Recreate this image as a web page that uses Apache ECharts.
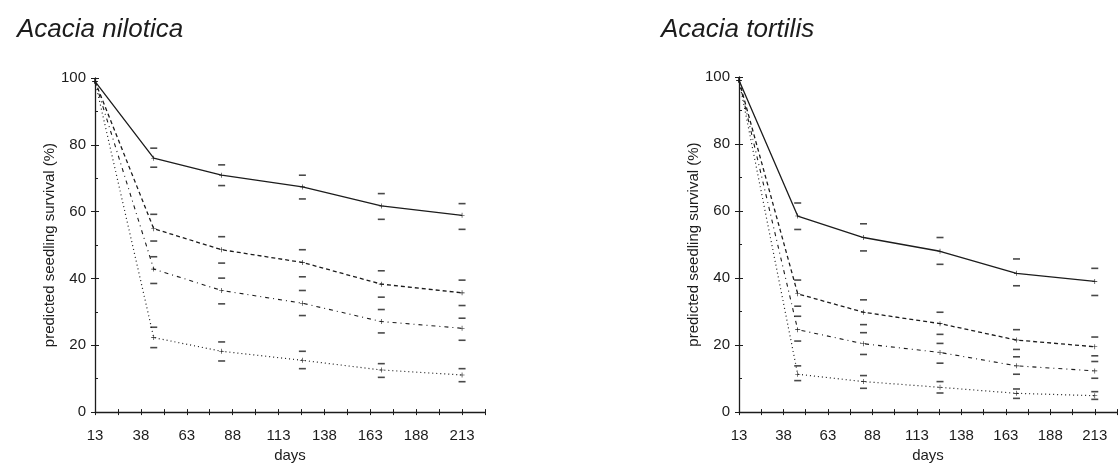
<!DOCTYPE html>
<html>
<head>
<meta charset="utf-8">
<script src="https://cdn.jsdelivr.net/npm/echarts@6/dist/echarts.min.js"></script>
<style>
html,body{margin:0;padding:0;background:#fff;}
#c{width:1120px;height:468px;}
</style>
</head>
<body>
<div id="c"></div>
<script>
// ---- data ----
const xTickLabels = [13, 38, 63, 88, 113, 138, 163, 188, 213];
const yTickLabels = [0, 20, 40, 60, 80, 100];
const titles = ['Acacia nilotica', 'Acacia tortilis'];
const xName = 'days';
const yName = 'predicted seedling survival (%)';

const nilDays = [13, 45, 82, 126, 169, 213];
const nilSolid     = [99, 76.0, 70.9, 67.4, 61.7, 58.9];
const nilSolidHi   = [null, 79.0, 74.0, 70.9, 65.4, 62.4];
const nilSolidLo   = [null, 73.3, 67.8, 63.8, 57.7, 54.7];
const nilDash      = [99, 54.9, 48.6, 44.8, 38.3, 35.7];
const nilDashHi    = [null, 59.2, 52.5, 48.6, 42.3, 39.5];
const nilDashLo    = [null, 51.2, 44.6, 40.5, 34.4, 31.9];
const nilDashDot   = [99, 42.8, 36.4, 32.6, 27.1, 25.1];
const nilDashDotHi = [null, 46.5, 40.1, 36.4, 30.7, 28.1];
const nilDashDotLo = [null, 38.5, 32.4, 28.9, 23.7, 21.5];
const nilDot       = [99, 22.3, 18.2, 15.5, 12.6, 11.1];
const nilDotHi     = [null, 25.4, 21.0, 18.2, 14.5, 13.0];
const nilDotLo     = [null, 19.3, 15.3, 13.0, 10.4, 9.1];

const torDays = [13, 46, 83, 126, 169, 213];
const torSolid     = [99, 58.5, 52.1, 48.0, 41.4, 39.0];
const torSolidHi   = [null, 62.4, 56.2, 52.1, 45.7, 42.9];
const torSolidLo   = [null, 54.5, 48.1, 44.1, 37.7, 34.8];
const torDash      = [99, 35.3, 29.8, 26.4, 21.5, 19.5];
const torDashHi    = [null, 39.4, 33.5, 29.8, 24.6, 22.4];
const torDashLo    = [null, 31.6, 26.1, 23.2, 18.7, 16.8];
const torDashDot   = [99, 24.6, 20.4, 17.8, 13.8, 12.3];
const torDashDotHi = [null, 28.6, 23.7, 20.5, 16.5, 15.1];
const torDashDotLo = [null, 21.2, 17.2, 14.6, 11.3, 10.1];
const torDot       = [99, 11.3, 9.1, 7.4, 5.6, 4.9];
const torDotHi     = [null, 13.8, 10.9, 9.1, 6.9, 6.1];
const torDotLo     = [null, 9.4, 7.1, 5.7, 4.1, 3.8];

// ---- chart ----
const X0 = xTickLabels[0];          // axis origin day (13)
const INK = '#1c1c1c';
const FONT = 'Liberation Sans, Arial, sans-serif';
const PLUS = 'path://M4.4,0h1.2v10h-1.2zM0,4.4h10v1.2h-10z';

const styles = [
  {type: 'solid', width: 1.3},
  {type: [4, 3], width: 1.3},
  {type: [4, 4, 1, 4], width: 1.1},
  {type: [1, 3], width: 1.2}
];

const grids = [
  {left: 95, top: 78, width: 390, height: 337},
  {left: 739, top: 77, width: 381, height: 338}
];

function xAxes(gi) {
  const base = {
    type: 'value', gridIndex: gi, min: 0, max: 212.5, interval: 12.5,
    position: 'bottom',
    splitLine: {show: false}
  };
  return [
    Object.assign({}, base, {
      name: xName, nameLocation: 'middle', nameGap: 34,
      nameTextStyle: {fontSize: 15, color: INK, fontFamily: FONT},
      axisLine: {show: true, lineStyle: {color: INK, width: 1.3}},
      axisTick: {show: true, inside: false, length: 3, lineStyle: {color: INK, width: 1}},
      axisLabel: {
        show: true, margin: 16, fontSize: 15, color: INK, fontFamily: FONT,
        formatter: v => (Math.abs(v % 25) < 1e-6 ? String(v + X0) : '')
      }
    }),
    Object.assign({}, base, {
      axisLine: {show: false},
      axisTick: {show: true, inside: true, length: 3, lineStyle: {color: INK, width: 1}},
      axisLabel: {show: false}
    })
  ];
}

function yAxes(gi) {
  const base = {
    type: 'value', gridIndex: gi, min: 0, max: 100, interval: 20,
    position: 'left', splitLine: {show: false}
  };
  return [
    Object.assign({}, base, {
      name: yName, nameLocation: 'middle', nameGap: 38,
      nameTextStyle: {fontSize: 15, color: INK, fontFamily: FONT},
      axisLine: {show: true, lineStyle: {color: INK, width: 1.3}},
      axisTick: {show: true, inside: false, length: 4, lineStyle: {color: INK, width: 1}},
      minorTick: {show: false},
      axisLabel: {show: true, margin: 9, fontSize: 15, color: INK, fontFamily: FONT,
        formatter: v => (yTickLabels.indexOf(v) >= 0 ? String(v) : '')}
    }),
    Object.assign({}, base, {
      axisLine: {show: false},
      axisTick: {show: true, inside: true, length: 4, lineStyle: {color: INK, width: 1}},
      minorTick: {show: true, splitNumber: 2, length: 3, lineStyle: {color: INK, width: 1}},
      axisLabel: {show: false}
    })
  ];
}

const chartSeries = [
  {days: nilDays, lines: [nilSolid, nilDash, nilDashDot, nilDot],
   hi: [nilSolidHi, nilDashHi, nilDashDotHi, nilDotHi],
   lo: [nilSolidLo, nilDashLo, nilDashDotLo, nilDotLo]},
  {days: torDays, lines: [torSolid, torDash, torDashDot, torDot],
   hi: [torSolidHi, torDashHi, torDashDotHi, torDotHi],
   lo: [torSolidLo, torDashLo, torDashDotLo, torDotLo]}
];

const series = [];
chartSeries.forEach((cs, gi) => {
  const xi = gi * 2, yi = gi * 2;
  cs.lines.forEach((vals, k) => {
    series.push({
      type: 'line', xAxisIndex: xi, yAxisIndex: yi,
      data: cs.days.map((d, i) => [d - X0, vals[i]]),
      symbol: PLUS, symbolSize: 5, showSymbol: true,
      itemStyle: {color: INK},
      lineStyle: Object.assign({color: INK}, styles[k]),
      silent: true, animation: false, z: 3
    });
    const caps = [];
    cs.days.forEach((d, i) => {
      if (cs.hi[k][i] != null) caps.push([d - X0, cs.hi[k][i]]);
      if (cs.lo[k][i] != null) caps.push([d - X0, cs.lo[k][i]]);
    });
    series.push({
      type: 'scatter', xAxisIndex: xi, yAxisIndex: yi,
      data: caps, symbol: 'rect', symbolSize: [7, 1.6],
      itemStyle: {color: INK}, silent: true, animation: false, z: 3
    });
  });
});

const chart = echarts.init(document.getElementById('c'), null, {renderer: 'canvas'});
chart.setOption({
  backgroundColor: '#ffffff',
  animation: false,
  title: [
    {text: titles[0], left: 12, top: 12,
     textStyle: {fontStyle: 'italic', fontWeight: 'normal', fontSize: 26, color: INK, fontFamily: FONT}},
    {text: titles[1], left: 656, top: 12,
     textStyle: {fontStyle: 'italic', fontWeight: 'normal', fontSize: 26, color: INK, fontFamily: FONT}}
  ],
  grid: grids,
  xAxis: [].concat(xAxes(0), xAxes(1)),
  yAxis: [].concat(yAxes(0), yAxes(1)),
  series: series
});
</script>
</body>
</html>
